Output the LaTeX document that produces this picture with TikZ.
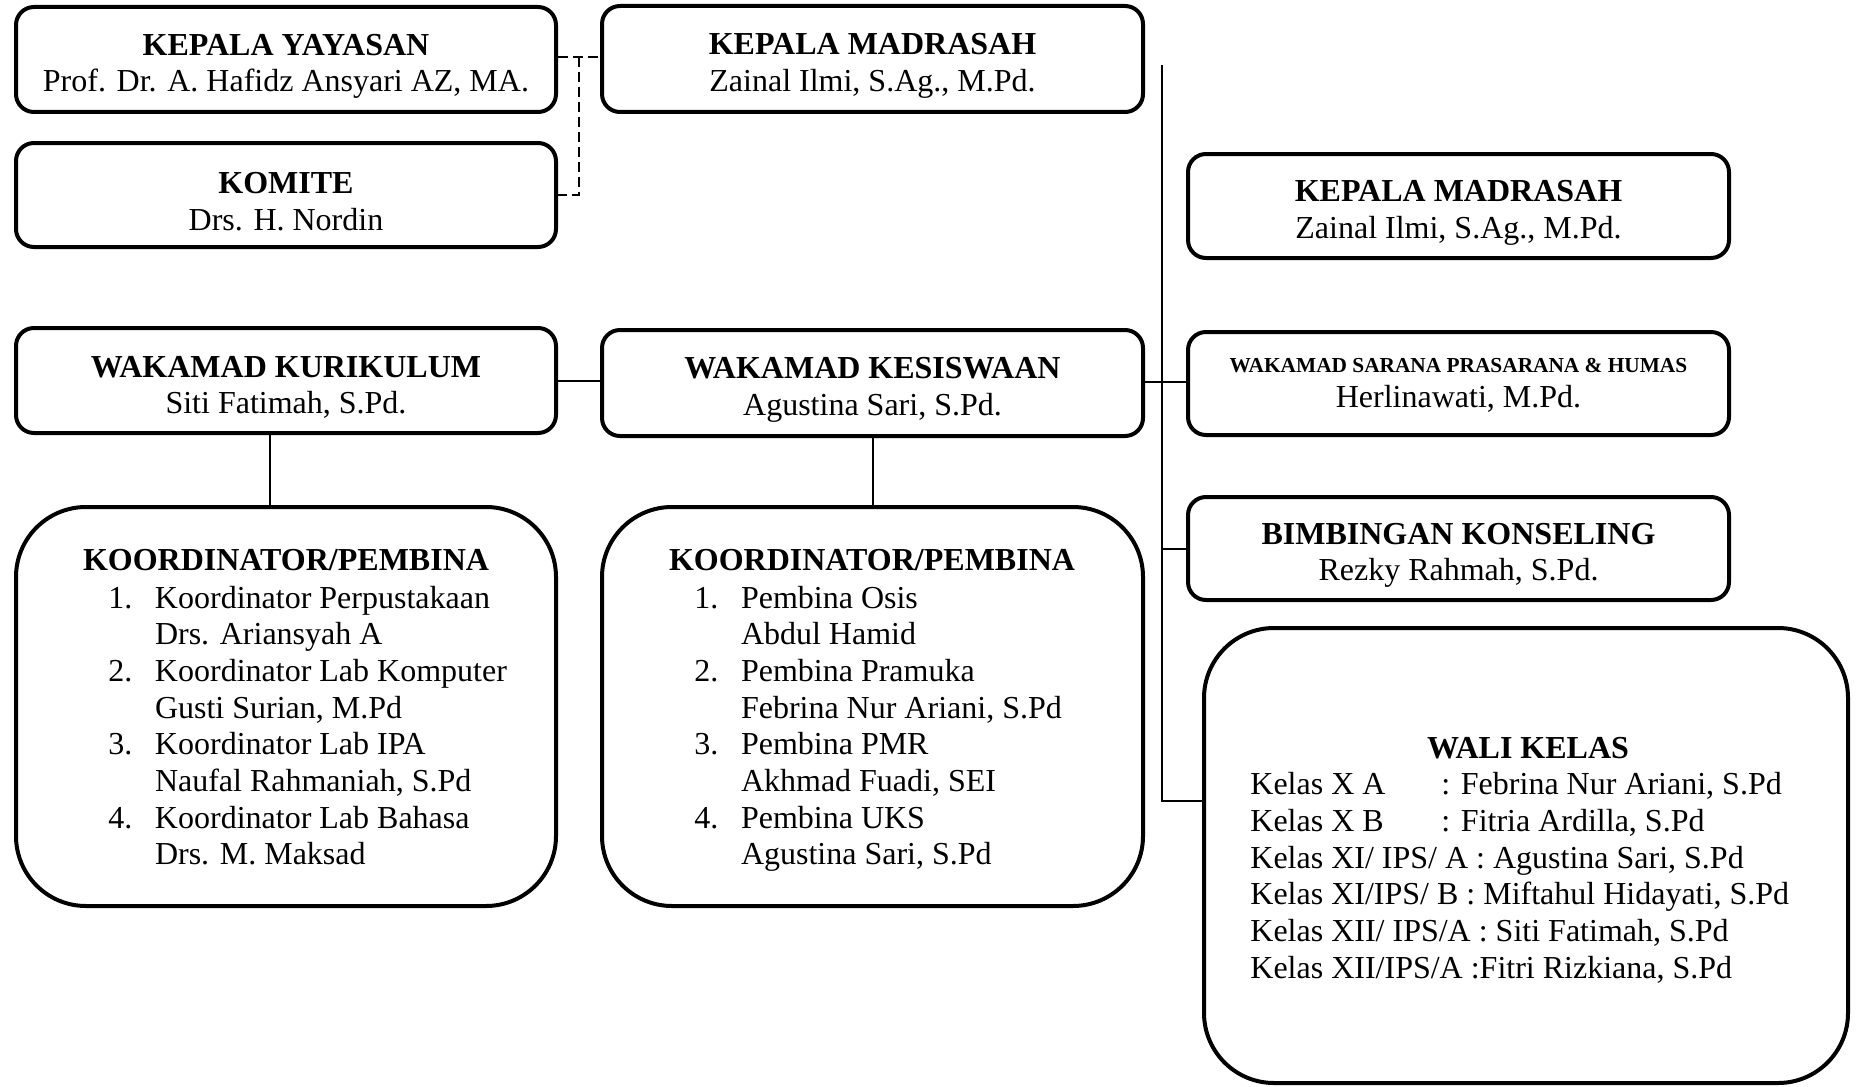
\documentclass[tikz,border=0pt]{standalone}
\usepackage{fontspec}
\setmainfont{Liberation Serif}
\usetikzlibrary{calc}
\newcommand\itemno[1]{\makebox[23.3pt][l]{#1}}
\newcommand\kelas[1]{\makebox[95.5pt][l]{#1}}
% taller first line, so the two lines sit a little below the box centre
\newcommand\headstrut{\rule{0pt}{17.5pt}}
\begin{document}
\begin{tikzpicture}[x=0.5pt,y=-0.5pt,
  box/.style={draw, line width=2pt, rounded corners=9pt, inner sep=0pt,
    align=center, font=\fontsize{16}{18.35}\selectfont},
  bigbox/.style={draw, line width=2pt, rounded corners=35pt, inner sep=0pt},
  link/.style={line width=1pt},
  trunkline/.style={line width=0.8pt},
  dashlink/.style={line width=1pt, dash pattern=on 5pt off 2.5pt},
  heading/.style={font=\fontsize{16}{18.35}\selectfont\bfseries, anchor=base, inner sep=0pt},
  listing/.style={font=\fontsize{16}{18.35}\selectfont, anchor=base west, inner sep=0pt},
]
\useasboundingbox (0,0) rectangle (1856,1086);

% top row: foundation, committee, head of school
\node[box, minimum width=270pt, minimum height=52.5pt] (yay) at (286,59.5)
  {\headstrut\textbf{KEPALA YAYASAN}\\Prof. Dr. A. Hafidz Ansyari AZ, MA.};
\node[box, minimum width=270.5pt, minimum height=53pt] (mad1) at (872.5,59)
  {\headstrut\textbf{KEPALA MADRASAH}\\Zainal Ilmi, S.Ag., M.Pd.};
\node[box, minimum width=270pt, minimum height=52pt] (kom) at (286,195)
  {\headstrut\textbf{KOMITE}\\Drs. H. Nordin};

% right column
\node[box, minimum width=270.5pt, minimum height=52pt] (mad2) at (1458.5,206)
  {\headstrut\textbf{KEPALA MADRASAH}\\Zainal Ilmi, S.Ag., M.Pd.};
\node[box, minimum width=270.5pt, minimum height=51.5pt] (sar) at (1458.5,383.5)
  {\rule{0pt}{9pt}{\fontsize{10.67}{12}\selectfont\bfseries WAKAMAD SARANA PRASARANA \& HUMAS}\\[-0.5pt]Herlinawati, M.Pd.};
\node[box, minimum width=270.5pt, minimum height=51.5pt] (bk) at (1458.5,548.5)
  {\headstrut\textbf{BIMBINGAN KONSELING}\\Rezky Rahmah, S.Pd.};

% vice heads
\node[box, minimum width=270pt, minimum height=52.5pt] (kur) at (286,380.5)
  {\headstrut\textbf{WAKAMAD KURIKULUM}\\Siti Fatimah, S.Pd.};
\node[box, minimum width=270.5pt, minimum height=53pt] (kes) at (872.5,383)
  {\headstrut\textbf{WAKAMAD KESISWAAN}\\Agustina Sari, S.Pd.};

% coordinator boxes
\node[bigbox, minimum width=270pt, minimum height=199.5pt] (ko1) at (286,706.5) {};
\node[heading] (ko1title) at (286,570) {KOORDINATOR/PEMBINA};
\node[listing] (ko1list) at (108,608) {\begin{tabular}[t]{@{}l@{}}
  \itemno{1.}Koordinator Perpustakaan\\ \itemno{}Drs. Ariansyah A\\
  \itemno{2.}Koordinator Lab Komputer\\ \itemno{}Gusti Surian, M.Pd\\
  \itemno{3.}Koordinator Lab IPA\\ \itemno{}Naufal Rahmaniah, S.Pd\\
  \itemno{4.}Koordinator Lab Bahasa\\ \itemno{}Drs. M. Maksad
\end{tabular}};

\node[bigbox, minimum width=270.5pt, minimum height=199.5pt] (ko2) at (872.5,706.5) {};
\node[heading] (ko2title) at (872,570) {KOORDINATOR/PEMBINA};
\node[listing] (ko2list) at (694,608) {\begin{tabular}[t]{@{}l@{}}
  \itemno{1.}Pembina Osis\\ \itemno{}Abdul Hamid\\
  \itemno{2.}Pembina Pramuka\\ \itemno{}Febrina Nur Ariani, S.Pd\\
  \itemno{3.}Pembina PMR\\ \itemno{}Akhmad Fuadi, SEI\\
  \itemno{4.}Pembina UKS\\ \itemno{}Agustina Sari, S.Pd
\end{tabular}};

% homeroom teachers
\node[draw, line width=2pt, rounded corners=35pt, inner sep=0pt,
  minimum width=322pt, minimum height=227.5pt] (wali) at (1526,855.5) {};
\node[heading] (walititle) at (1528,758) {WALI KELAS};
\node[listing] (walilist) at (1250,794.7) {\begin{tabular}[t]{@{}l@{}}
  \kelas{Kelas X A}: Febrina Nur Ariani, S.Pd\\
  \kelas{Kelas X B}: Fitria Ardilla, S.Pd\\
  Kelas XI/ IPS/ A : Agustina Sari, S.Pd\\
  Kelas XI/IPS/ B : Miftahul Hidayati, S.Pd\\
  Kelas XII/ IPS/A : Siti Fatimah, S.Pd\\
  Kelas XII/IPS/A :Fitri Rizkiana, S.Pd
\end{tabular}};

% dashed advisory links
\draw[dashlink] (yay.east |- 0,57) -- (mad1.west |- 0,57);
\draw[dashlink] (579,57) |- (kom.east);

% solid links
\draw[link] (kur.east) -- (kur.east -| kes.west);
\draw[link] (kes.east |- 0,382) -- (sar.west |- 0,382);
\draw[link] ([xshift=-8pt]kur.south) -- ([xshift=-8pt]kur.south |- ko1.north);
\draw[link] (kes.south) -- (kes.south |- ko2.north);

% vertical trunk on the right
\coordinate (trunktop) at (1162,65);
\coordinate (waliin) at (1204,801);
\draw[trunkline] (trunktop) |- (waliin);
\draw[link] (trunktop |- bk.west) -- (bk.west);
\end{tikzpicture}
\end{document}
